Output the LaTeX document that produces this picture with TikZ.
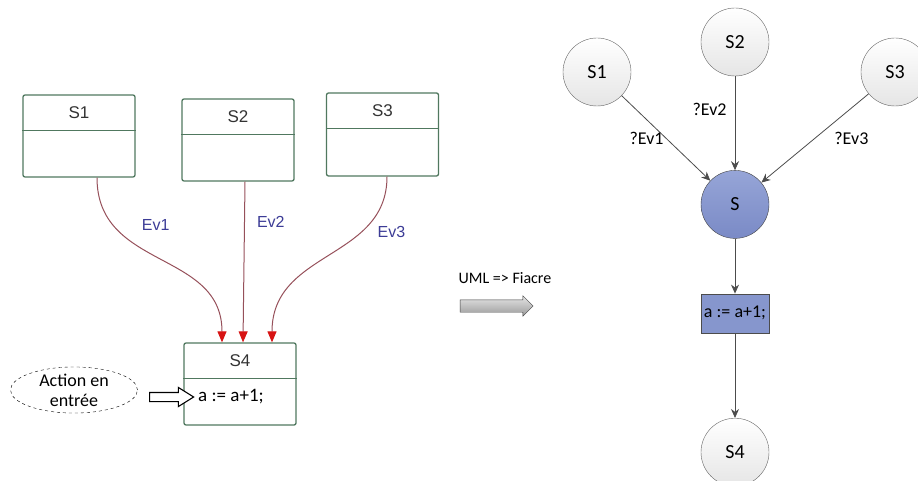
\documentclass[tikz,border=0pt]{standalone}
\usepackage{fontspec}
\setmainfont{Carlito}
\newfontfamily\umlfont{Liberation Sans}
\usetikzlibrary{shapes,arrows.meta,positioning}

\definecolor{umlgreen}{RGB}{80,120,95}
\definecolor{umledge}{RGB}{150,80,90}
\definecolor{umlred}{RGB}{215,20,20}
\definecolor{umlblue}{RGB}{60,60,150}
\definecolor{fiacretop}{RGB}{150,165,215}
\definecolor{fiacrebottom}{RGB}{122,138,198}
\definecolor{fiacrefill}{RGB}{134,150,205}

\begin{document}
\begin{tikzpicture}[x=1pt, y=-1pt,
    umlbox/.style={rectangle, draw=umlgreen, line width=1.3pt, rounded corners=2pt, minimum width=112pt, minimum height=82pt, inner sep=0pt},
    umltitle/.style={font=\umlfont\fontsize{17}{20}\selectfont, text=black!80},
    umlevent/.style={font=\umlfont\fontsize{16}{19}\selectfont, text=umlblue, inner sep=1pt},
    umlarrow/.style={draw=umledge, line width=1pt, -{Triangle[width=9pt,length=11pt,color=umlred]}},
    note/.style={ellipse, draw, dashed, minimum width=127pt, minimum height=35pt, inner sep=0pt, align=center, font=\fontsize{18}{20}\selectfont},
    petristate/.style={circle, draw=gray!80!black, top color=white, bottom color=gray!20, minimum size=68pt, inner sep=0pt, font=\fontsize{20}{23}\selectfont},
    petrimain/.style={petristate, draw=black!75, top color=fiacretop, bottom color=fiacrebottom},
    petriaction/.style={rectangle, draw=black!70, fill=fiacrefill, minimum width=68pt, minimum height=39pt, inner sep=0pt, font=\fontsize{18}{21}\selectfont},
    petriarrow/.style={draw=black!70, line width=0.8pt, -{Stealth[length=9pt,width=8pt]}},
    petrilabel/.style={font=\fontsize{18}{21}\selectfont, inner sep=2pt}]

    \useasboundingbox (0,0) rectangle (918,481);

    % UML states
    \node [umlbox] (s1) at (79,136) {};
    \node [umlbox] (s2) at (238,140) {};
    \node [umlbox, minimum height=83pt] (s3) at (382.5,134.5) {};
    \node [umlbox] (s4) at (240,384) {};
    \foreach \st/\txt in {s1/S1, s2/S2, s3/S3, s4/S4} {
        \draw [umlgreen, line width=1.3pt] ([yshift=-36pt]\st.north west) -- ([yshift=-36pt]\st.north east);
        \node [umltitle] at ([yshift=-18pt]\st.north) {\txt};
    }

    % Entry action of S4
    \node [anchor=west, font=\fontsize{19}{22}\selectfont, inner sep=1pt] (act) at (197,397) {a := a+1;};
    \node [note] (entry) at (74,390) {Action en\\entrée};
    \node [single arrow, draw, line width=1.1pt, fill=white, inner sep=4pt, single arrow head extend=5pt, single arrow tip angle=64, minimum height=44pt] (entryarrow) at (168,397) {};

    % UML transitions
    \draw [umlarrow] ([xshift=18pt]s1.south) .. controls (97,270) and (222,250) .. ([xshift=-18pt]s4.north)
        node [umlevent, pos=0.22, right=28pt] {Ev1};
    \draw [umlarrow] ([xshift=7pt]s2.south) -- ([xshift=3pt]s4.north)
        node [umlevent, pos=0.25, right=11pt] {Ev2};
    \draw [umlarrow] ([xshift=4.5pt]s3.south) .. controls (387,260) and (272,250) .. ([xshift=32pt]s4.north)
        node [umlevent, pos=0.3, right=14pt] {Ev3};

    % Translation
    \node [font=\fontsize{16}{19}\selectfont] (conv) at (505,278) {UML => Fiacre};
    \node [single arrow, draw=gray!50!black, top color=gray!20, bottom color=gray!80, inner sep=6pt, single arrow head extend=4pt, minimum height=73pt] (convarrow) at (493.5,306) {};

    % Fiacre process
    \node [petristate] (p2) at (735,42) {S2};
    \node [petristate] (p1) at (597,72) {S1};
    \node [petristate] (p3) at (895,72) {S3};
    \node [petrimain, below=94pt of p2] (p) {S};
    \node [petriaction, below=55pt of p] (pa) {a := a+1;};
    \node [petristate, below=85pt of pa] (p4) {S4};

    \draw [petriarrow] (p1) -- node [petrilabel, pos=0.5, left] {?Ev1} (p);
    \draw [petriarrow] (p2) -- node [petrilabel, pos=0.35, left=6pt] {?Ev2} (p);
    \draw [petriarrow] (p3) -- node [petrilabel, pos=0.5, right=17pt] {?Ev3} (p);
    \draw [petriarrow] (p) -- (pa);
    \draw [petriarrow] (pa) -- (p4);
\end{tikzpicture}
\end{document}
